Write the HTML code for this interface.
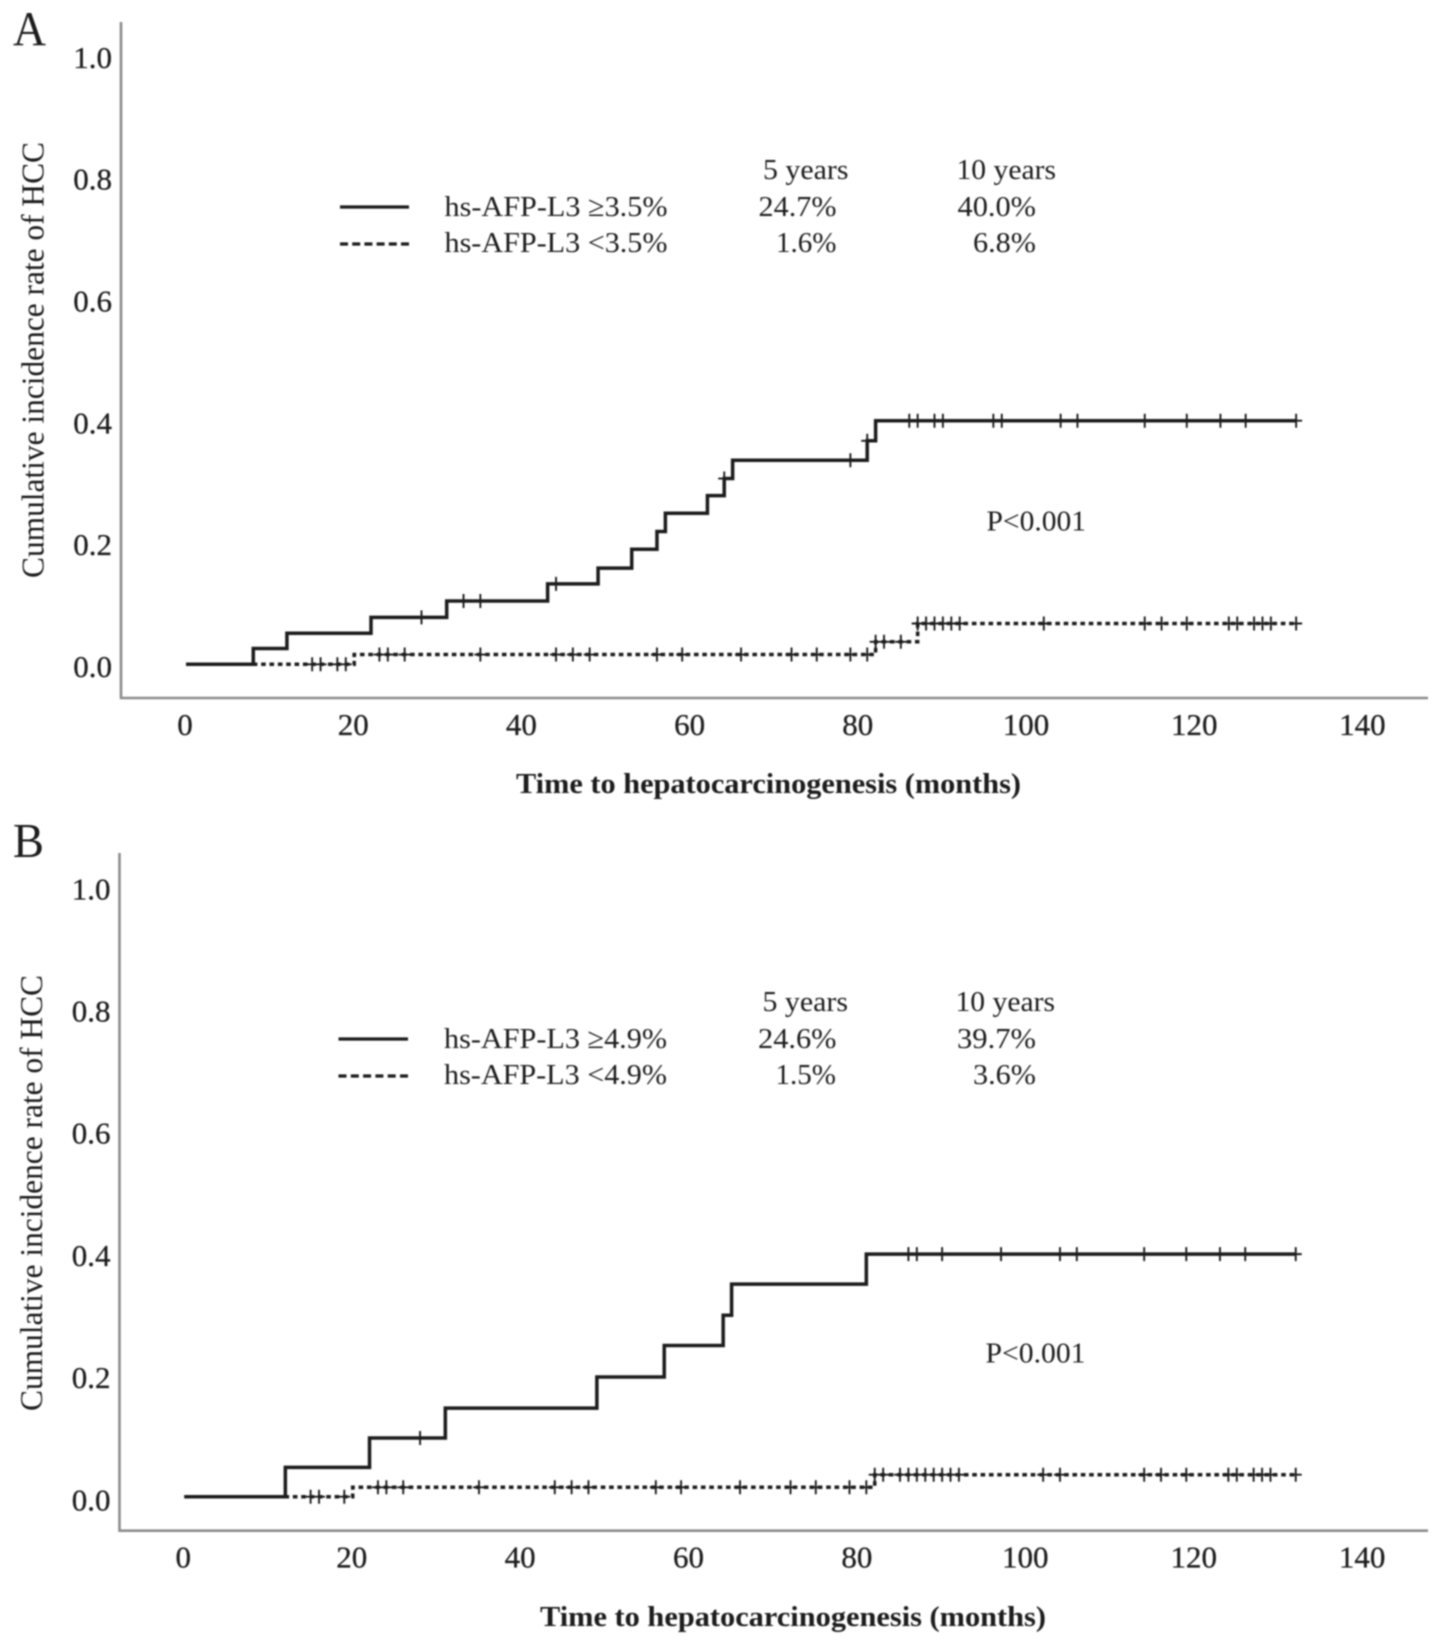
<!DOCTYPE html>
<html lang="en">
<head>
<meta charset="utf-8">
<title>Cumulative incidence of HCC by hs-AFP-L3</title>
<style>
html,body{margin:0;padding:0;background:#fff}
svg{display:block}
text{font-family:"Liberation Serif",serif;fill:#1e1e1e;font-size:29px}
.tick{font-size:31px;stroke:#1e1e1e;stroke-width:.3}
.axis{stroke:#8c8c8c;stroke-width:2.6;fill:none}
.solid{stroke:#1e1e1e;stroke-width:3.5;fill:none}
.dashed{stroke:#1e1e1e;stroke-width:3.5;fill:none;stroke-dasharray:4.6 3.75}
.censor{stroke:#1e1e1e;stroke-width:1.9;fill:none}
</style>
</head>
<body>
<svg xmlns="http://www.w3.org/2000/svg" width="1441" height="1651" viewBox="0 0 1441 1651">
<defs>
<filter id="soft" filterUnits="userSpaceOnUse" x="0" y="0" width="1441" height="1651"><feGaussianBlur stdDeviation="0.85"/></filter>
</defs>
<rect width="1441" height="1651" fill="#fff"/>
<g filter="url(#soft)">

<g id="panel-a">
<text x="13" y="45" style="font-size:49px" textLength="33" lengthAdjust="spacingAndGlyphs">A</text>
<text transform="translate(43.5,578) rotate(-90)" textLength="436" lengthAdjust="spacingAndGlyphs" style="font-size:32px">Cumulative incidence rate of HCC</text>
<text x="516" y="793" style="font-weight:bold;font-size:29px" textLength="505" lengthAdjust="spacingAndGlyphs">Time to hepatocarcinogenesis (months)</text>
<line class="axis" x1="121" y1="22" x2="121" y2="699"/>
<line class="axis" x1="120" y1="698" x2="1428" y2="698"/>
<line x1="340" y1="207" x2="409" y2="207" stroke="#1e1e1e" stroke-width="3.2"/>
<line x1="340" y1="244" x2="409" y2="244" stroke="#1e1e1e" stroke-width="3.2" stroke-dasharray="8 4.2"/>
<text x="763" y="179" textLength="85.5" lengthAdjust="spacingAndGlyphs">5 years</text>
<text x="956.5" y="179" textLength="99.5" lengthAdjust="spacingAndGlyphs">10 years</text>
<text x="444.5" y="216" textLength="223" lengthAdjust="spacingAndGlyphs">hs-AFP-L3 ≥3.5%</text>
<text x="444.5" y="252" textLength="223" lengthAdjust="spacingAndGlyphs">hs-AFP-L3 &lt;3.5%</text>
<text x="758.5" y="216" textLength="78" lengthAdjust="spacingAndGlyphs">24.7%</text>
<text x="957.5" y="216" textLength="78.5" lengthAdjust="spacingAndGlyphs">40.0%</text>
<text x="776" y="252" textLength="60.5" lengthAdjust="spacingAndGlyphs">1.6%</text>
<text x="973" y="252" textLength="63" lengthAdjust="spacingAndGlyphs">6.8%</text>
<text x="986.5" y="530.5" textLength="99.5" lengthAdjust="spacingAndGlyphs">P&lt;0.001</text>
<g id="panel-a-marks"></g>
</g>

<g id="panel-b">
<text x="13" y="857" style="font-size:49px" textLength="31" lengthAdjust="spacingAndGlyphs">B</text>
<text transform="translate(42,1411) rotate(-90)" textLength="436" lengthAdjust="spacingAndGlyphs" style="font-size:32px">Cumulative incidence rate of HCC</text>
<text x="540" y="1626" style="font-weight:bold;font-size:29px" textLength="506" lengthAdjust="spacingAndGlyphs">Time to hepatocarcinogenesis (months)</text>
<line class="axis" x1="119.5" y1="853" x2="119.5" y2="1532"/>
<line class="axis" x1="118.5" y1="1530.7" x2="1428" y2="1530.7"/>
<line x1="338.5" y1="1039" x2="408" y2="1039" stroke="#1e1e1e" stroke-width="3.2"/>
<line x1="338.5" y1="1076" x2="408" y2="1076" stroke="#1e1e1e" stroke-width="3.2" stroke-dasharray="8 4.3"/>
<text x="762.5" y="1011" textLength="85.5" lengthAdjust="spacingAndGlyphs">5 years</text>
<text x="955.5" y="1011" textLength="99.5" lengthAdjust="spacingAndGlyphs">10 years</text>
<text x="444" y="1048" textLength="223" lengthAdjust="spacingAndGlyphs">hs-AFP-L3 ≥4.9%</text>
<text x="444" y="1084" textLength="223" lengthAdjust="spacingAndGlyphs">hs-AFP-L3 &lt;4.9%</text>
<text x="758" y="1048" textLength="78.5" lengthAdjust="spacingAndGlyphs">24.6%</text>
<text x="957" y="1048" textLength="79" lengthAdjust="spacingAndGlyphs">39.7%</text>
<text x="775.5" y="1084" textLength="60.5" lengthAdjust="spacingAndGlyphs">1.5%</text>
<text x="973" y="1084" textLength="63" lengthAdjust="spacingAndGlyphs">3.6%</text>
<text x="985.5" y="1362.5" textLength="100" lengthAdjust="spacingAndGlyphs">P&lt;0.001</text>
<g id="panel-b-marks"></g>
</g>

</g>
</svg>

<script>
// Shared axis tick values
const xTickValues = [0, 20, 40, 60, 80, 100, 120, 140];
const yTickValues = [0, 0.2, 0.4, 0.6, 0.8, 1.0];

// Panel A: hs-AFP-L3 >=3.5%
const panelAHighTimes = [0, 8, 12, 22, 31, 43, 49, 53, 56, 57, 62, 64, 65, 81, 82, 132];
const panelAHighRates = [0, 0.026, 0.051, 0.077, 0.104, 0.132, 0.158, 0.189, 0.218, 0.248, 0.277, 0.305, 0.335, 0.367, 0.40, 0.40];
const panelAHighCensored = [28, 33, 35, 44, 64, 79, 81, 86, 87, 89, 90, 96, 97, 104, 106, 114, 119, 123, 126, 132];

// Panel A: hs-AFP-L3 <3.5%
const panelALowTimes = [0, 20, 82, 87, 132];
const panelALowRates = [0, 0.016, 0.037, 0.067, 0.067];
const panelALowCensored = [15, 16, 18, 19, 23, 24, 26, 35, 44, 46, 48, 56, 59, 66, 72, 75, 79, 81, 82, 83, 85, 87, 88, 89, 90, 91, 92, 102, 114, 116, 119, 124, 125, 127, 128, 129, 132];

// Panel B: hs-AFP-L3 >=4.9%
const panelBHighTimes = [0, 12, 22, 31, 49, 57, 64, 65, 81, 132];
const panelBHighRates = [0, 0.048, 0.096, 0.145, 0.196, 0.2475, 0.297, 0.348, 0.397, 0.397];
const panelBHighCensored = [28, 86, 87, 90, 97, 104, 106, 114, 119, 123, 126, 132];

// Panel B: hs-AFP-L3 <4.9%
const panelBLowTimes = [0, 20, 82, 132];
const panelBLowRates = [0, 0.0154, 0.036, 0.036];
const panelBLowCensored = [15, 16, 19, 23, 24, 26, 35, 44, 46, 48, 56, 59, 66, 72, 75, 79, 81, 82, 83, 85, 86, 87, 88, 89, 90, 91, 92, 102, 104, 114, 116, 119, 124, 125, 127, 128, 129, 132];

const SVGNS = 'http://www.w3.org/2000/svg';

function rateAt(times, rates, t) {
  let r = rates[0];
  for (let i = 0; i < times.length; i++) {
    if (times[i] <= t) r = rates[i];
  }
  return r;
}

function stepPath(times, rates, xf, yf) {
  let d = 'M' + xf(times[0]) + ' ' + yf(rates[0]);
  for (let i = 1; i < times.length; i++) {
    d += 'H' + xf(times[i]) + 'V' + yf(rates[i]);
  }
  return d;
}

function crossPath(times, rates, censored, xf, yf) {
  let d = '';
  censored.forEach(function (t) {
    const cx = xf(t);
    const cy = yf(rateAt(times, rates, t));
    d += 'M' + cx + ' ' + (cy - 7) + 'V' + (cy + 7) + 'M' + (cx - 6) + ' ' + cy + 'H' + (cx + 6);
  });
  return d;
}

function drawPanel(rootId, xf, yf, xLabelY, yLabelX, yLabelDrop, high, low) {
  const root = document.getElementById(rootId);

  xTickValues.forEach(function (v) {
    const t = document.createElementNS(SVGNS, 'text');
    t.setAttribute('class', 'tick');
    t.setAttribute('x', xf(v) - 1);
    t.setAttribute('y', xLabelY);
    t.setAttribute('text-anchor', 'middle');
    
    
    t.textContent = String(v);
    root.appendChild(t);
  });

  yTickValues.forEach(function (v) {
    const t = document.createElementNS(SVGNS, 'text');
    t.setAttribute('class', 'tick');
    t.setAttribute('x', yLabelX);
    t.setAttribute('y', yf(v) + yLabelDrop);
    t.setAttribute('text-anchor', 'end');
    
    
    t.textContent = v.toFixed(1);
    root.appendChild(t);
  });

  const lowLine = document.createElementNS(SVGNS, 'path');
  lowLine.setAttribute('class', 'dashed');
  lowLine.setAttribute('d', stepPath(low.times, low.rates, xf, yf));
  
  
  root.appendChild(lowLine);

  const lowMarks = document.createElementNS(SVGNS, 'path');
  lowMarks.setAttribute('class', 'censor');
  lowMarks.setAttribute('d', crossPath(low.times, low.rates, low.censored, xf, yf));
  
  
  root.appendChild(lowMarks);

  const highLine = document.createElementNS(SVGNS, 'path');
  highLine.setAttribute('class', 'solid');
  highLine.setAttribute('d', stepPath(high.times, high.rates, xf, yf));
  
  
  root.appendChild(highLine);

  const highMarks = document.createElementNS(SVGNS, 'path');
  highMarks.setAttribute('class', 'censor');
  highMarks.setAttribute('d', crossPath(high.times, high.rates, high.censored, xf, yf));
  
  
  root.appendChild(highMarks);
}

drawPanel('panel-a-marks',
  function (t) { return 186 + 8.41 * t; },
  function (v) { return 664.3 - 609 * v; },
  735, 112, 12.6,
  { times: panelAHighTimes, rates: panelAHighRates, censored: panelAHighCensored },
  { times: panelALowTimes, rates: panelALowRates, censored: panelALowCensored });

drawPanel('panel-b-marks',
  function (t) { return 184.3 + 8.42 * t; },
  function (v) { return 1496.7 - 611 * v; },
  1567.5, 110.5, 13.6,
  { times: panelBHighTimes, rates: panelBHighRates, censored: panelBHighCensored },
  { times: panelBLowTimes, rates: panelBLowRates, censored: panelBLowCensored });
</script>
</body>
</html>
